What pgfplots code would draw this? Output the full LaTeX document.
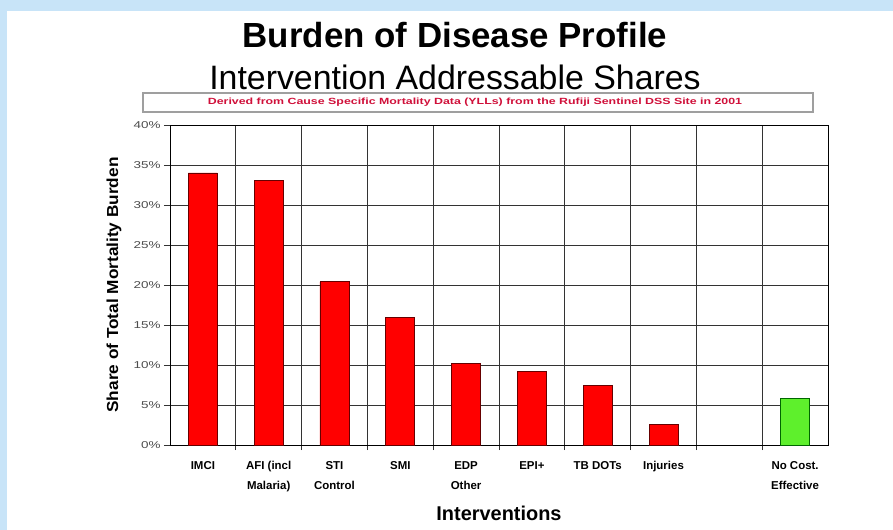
\documentclass[border=0pt]{standalone}
\usepackage{pgfplots}
\pgfplotsset{compat=1.18}
\usepackage{graphicx}
\usepackage{fontspec}
\setmainfont{Liberation Sans}
\definecolor{bgblue}{HTML}{C8E4F8}
\definecolor{barred}{HTML}{FF0000}
\definecolor{bargreen}{HTML}{5EF02C}
\definecolor{gridc}{HTML}{333333}
\definecolor{subred}{HTML}{D0103A}
\begin{document}
\begin{tikzpicture}
% page: 893 x 530 bp, plot area at (170,85)-(828,405) from lower left
\fill[bgblue] (-170bp,-85bp) rectangle (723bp,445bp);
\fill[white] (-163bp,-85bp) rectangle (723bp,434bp);
\node[font=\fontsize{35}{38}\selectfont\bfseries] at (285bp,410bp) {Burden of Disease Profile};
\node[font=\fontsize{34}{37}\selectfont] at (285bp,368bp) {Intervention Addressable Shares};
\draw[gray!75,line width=1.2bp,fill=white] (-27bp,333bp) rectangle (643bp,352bp);
\node[font=\fontsize{9}{10}\selectfont\bfseries,text=subred] at (305bp,342.5bp) {\scalebox{1.38}[1]{Derived from Cause Specific Mortality Data (YLLs) from the Rufiji Sentinel DSS Site in 2001}};
\begin{axis}[
  at={(0,0)},anchor=south west,
  scale only axis,width=658bp,height=320bp,
  ybar,bar width=29bp,bar shift=0pt,
  xmin=-0.5,xmax=9.5,ymin=0,ymax=40,
  xtick={0,...,9},
  xticklabels={IMCI,AFI (incl\\Malaria),STI\\Control,SMI,EDP\\Other,EPI+,TB DOTs,Injuries,,No Cost.\\Effective},
  x tick label style={font=\fontsize{11.5}{20}\selectfont\bfseries,align=center,anchor=north,yshift=-7bp},
  major x tick style={draw=none},
  minor xtick={0.5,1.5,...,8.5},
  xminorgrids=true,
  tick pos=left,
  ytick={0,5,...,40},
  yticklabel={\scalebox{1.35}[1]{\pgfmathprintnumber{\tick}\%}},
  y tick label style={font=\fontsize{10}{11}\selectfont,text=black!70},
  /pgf/number format/assume math mode=true,
  ymajorgrids=true,
  grid style={gridc,line width=0.9bp},
  minor grid style={gridc,line width=0.9bp},
  tick align=outside,
  major tick length=6bp,
  minor tick length=5bp,
  tick style={gridc,line width=0.9bp},
  axis line style={black,line width=0.9bp},
  xlabel={Interventions},
  xlabel style={font=\fontsize{20}{22}\selectfont\bfseries,at={(axis description cs:0.5,0)},anchor=center,yshift=-68bp},
  ylabel={\scalebox{1.08}[1]{Share of Total Mortality Burden}},
  ylabel style={font=\fontsize{16}{18}\selectfont\bfseries,at={(axis description cs:-0.0851,0.5)},anchor=center},
]
\addplot[fill=barred,draw=black!60!red,line width=0.9bp] coordinates {(0,34.0) (1,33.1) (2,20.4) (3,16.0) (4,10.2) (5,9.25) (6,7.4) (7,2.6)};
\addplot[fill=bargreen,draw=black!60!green,line width=0.9bp] coordinates {(9,5.8)};
\end{axis}
\end{tikzpicture}
\end{document}
